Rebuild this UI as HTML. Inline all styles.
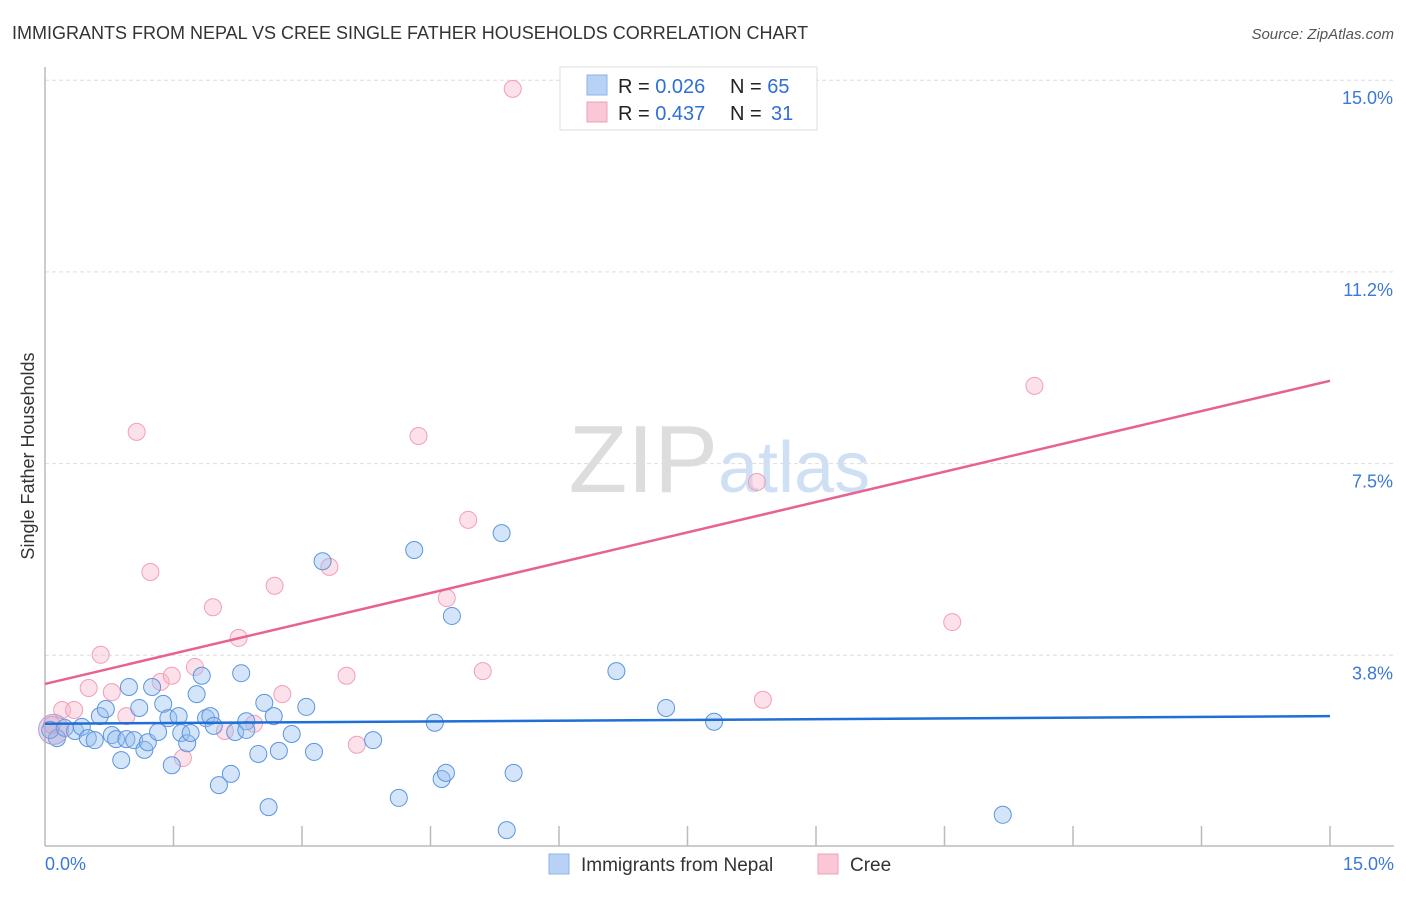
<!DOCTYPE html>
<html><head><meta charset="utf-8"><style>
body{margin:0;background:#fff;font-family:"Liberation Sans",sans-serif;}
svg text{font-family:"Liberation Sans",sans-serif;}
</style></head><body>
<svg id="chart" width="1406" height="892" xmlns="http://www.w3.org/2000/svg">
<text x="12" y="39" font-size="18" fill="#333">IMMIGRANTS FROM NEPAL VS CREE SINGLE FATHER HOUSEHOLDS CORRELATION CHART</text>
<text x="1394" y="39" font-size="15" fill="#555" font-style="italic" text-anchor="end">Source: ZipAtlas.com</text>
<text x="718" y="492" font-size="96" fill="#ddd" text-anchor="end" font-family="Liberation Serif">ZIP</text>
<text x="718" y="492" font-size="72" fill="#cfe0f5">atlas</text>
<text transform="translate(34,456) rotate(-90)" font-size="18" fill="#333" text-anchor="middle">Single Father Households</text>
<g id="grid"></g><g id="axes"></g><g id="lines"></g><g id="pts"></g>
<g>
<rect x="560" y="67" width="257" height="63" fill="#fff" stroke="#ddd"/>
<rect x="587" y="75" width="20" height="20" fill="#b8d2f5" stroke="#8ab4ea"/>
<rect x="587" y="102" width="20" height="20" fill="#f9c7d6" stroke="#f0a0b8"/>
<text x="618" y="93" font-size="20" fill="#222">R = <tspan fill="#2f6fd6">0.026</tspan><tspan x="730">N = </tspan><tspan fill="#2f6fd6">65</tspan></text>
<text x="618" y="120" font-size="20" fill="#222">R = <tspan fill="#2f6fd6">0.437</tspan><tspan x="730">N = </tspan><tspan fill="#2f6fd6" x="771">31</tspan></text>
</g>
<g>
<rect x="549" y="854" width="20" height="20" fill="#b8d2f5" stroke="#8ab4ea"/>
<text x="581" y="871" font-size="19" fill="#333">Immigrants from Nepal</text>
<rect x="818" y="854" width="20" height="20" fill="#f9c7d6" stroke="#f0a0b8"/>
<text x="850" y="871" font-size="19" fill="#333">Cree</text>
</g>
</svg>
<script>
const yTicks=[3.75,7.5,11.25,15];
const yTickLabels=["3.8%","7.5%","11.2%","15.0%"];
const nepalX=[0.14,0.06,0.23,0.35,0.43,0.50,0.58,0.64,0.71,0.78,0.83,0.89,0.95,0.98,1.04,1.10,1.16,1.20,1.25,1.32,1.38,1.44,1.48,1.56,1.59,1.66,1.70,1.77,1.83,1.88,1.93,1.97,2.03,2.17,2.22,2.29,2.35,2.35,2.49,2.56,2.61,2.67,2.73,2.88,3.05,3.14,3.24,3.83,4.13,4.31,4.55,4.63,4.68,4.75,5.33,5.39,5.47,6.67,7.25,7.81,11.18];
const nepalY=[2.13,2.29,2.33,2.27,2.35,2.13,2.09,2.56,2.70,2.19,2.11,1.70,2.11,3.13,2.09,2.72,1.90,2.05,3.13,2.25,2.80,2.52,1.60,2.56,2.23,2.03,2.23,2.99,3.35,2.52,2.56,2.37,1.21,1.43,2.25,3.40,2.46,2.29,1.82,2.82,0.78,2.56,1.88,2.21,2.74,1.86,5.59,2.09,0.96,5.81,2.43,1.33,1.45,4.52,6.14,0.33,1.45,3.44,2.72,2.45,0.63];
const creeX=[0.08,0.20,0.34,0.51,0.65,0.78,0.95,1.07,1.23,1.35,1.48,1.61,1.75,1.96,2.10,2.26,2.44,2.68,2.77,3.32,3.52,3.64,4.36,4.69,4.94,5.11,5.46,8.31,8.38,10.59,11.55];
const creeY=[2.39,2.68,2.68,3.11,3.76,3.03,2.56,8.12,5.38,3.23,3.35,1.74,3.52,4.69,2.27,4.09,2.41,5.11,2.99,5.48,3.35,2.00,8.04,4.87,6.40,3.44,14.83,7.14,2.88,4.40,9.02];
const nepalTrend=[2.41,2.56];
const creeTrend=[3.19,9.12];
const NS="http://www.w3.org/2000/svg";
const X=v=>45+v/15*1285;
const Y=v=>847-v/3.75*191.7;
function mk(tag,attrs,parent){const e=document.createElementNS(NS,tag);for(const k in attrs)e.setAttribute(k,attrs[k]);document.getElementById(parent).appendChild(e);return e;}
yTicks.forEach((t,i)=>{
 const g=mk('line',{x1:45,x2:1394,y1:Y(t),y2:Y(t),stroke:'#ddd','stroke-dasharray':'4,3'},'grid');
 
 
 const l=mk('text',{x:1393,y:Y(t)+24,'font-size':18,fill:'#3b78d8','text-anchor':'end'},'grid');
 l.textContent=yTickLabels[i];
 
 
});
let a=mk('line',{x1:45,x2:45,y1:67,y2:846,stroke:'#bbb','stroke-width':1.5},'axes');


a=mk('line',{x1:45,x2:1394,y1:846,y2:846,stroke:'#bbb','stroke-width':1.5},'axes');


for(let i=1;i<=10;i++){const t=mk('line',{x1:X(i*1.5),x2:X(i*1.5),y1:826,y2:846,stroke:'#bbb','stroke-width':1.5},'axes');
 
 }
let xl=mk('text',{x:45,y:870,'font-size':18,fill:'#3b78d8'},'axes');xl.textContent='0.0%';


xl=mk('text',{x:1394,y:870,'font-size':18,fill:'#3b78d8','text-anchor':'end'},'axes');xl.textContent='15.0%';


function dots(xs,ys,fill,stroke,name){xs.forEach((x,i)=>{const c=mk('circle',{cx:X(x),cy:Y(ys[i]),r:8.5,fill:fill,stroke:stroke,'stroke-width':1},'pts');
 
 });}
dots(creeX,creeY,'rgba(247,180,202,0.4)','#f0a0b8','cree-point');
dots(nepalX,nepalY,'rgba(150,190,240,0.4)','#5b95de','nepal-point');
let bg=mk('circle',{cx:X(0.1),cy:Y(2.3),r:15,fill:'rgba(170,150,200,0.35)',stroke:'#b0a0d0'},'pts');


let tl=mk('line',{x1:X(0),x2:X(15),y1:Y(creeTrend[0]),y2:Y(creeTrend[1]),stroke:'#e8628f','stroke-width':2.5},'lines');


tl=mk('line',{x1:X(0),x2:X(15),y1:Y(nepalTrend[0]),y2:Y(nepalTrend[1]),stroke:'#1f6fd6','stroke-width':2.5},'lines');


document.getElementById('chart').appendChild(document.getElementById('lines'));
</script>
</body></html>
